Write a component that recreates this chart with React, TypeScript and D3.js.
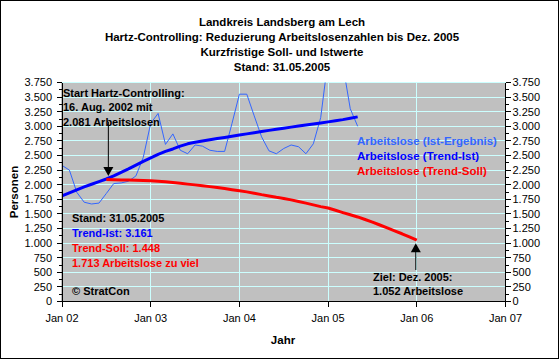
import React from "react";
import * as d3 from "d3";

const titleLines = [
  "Landkreis Landsberg am Lech",
  "Hartz-Controlling: Reduzierung Arbeitslosenzahlen bis Dez. 2005",
  "Kurzfristige Soll- und Istwerte",
  "Stand: 31.05.2005",
];

const axisStart = "2002-01";
const axisEnd = "2007-01";
const xTickMonths = ["2002-01", "2003-01", "2004-01", "2005-01", "2006-01", "2007-01"];
const xTickLabels = ["Jan 02", "Jan 03", "Jan 04", "Jan 05", "Jan 06", "Jan 07"];
const yTickValues = [0, 250, 500, 750, 1000, 1250, 1500, 1750, 2000, 2250, 2500, 2750, 3000, 3250, 3500, 3750];

// Arbeitslose (Ist-Ergebnis), monthly from 2002-01
const istStart = "2002-01";
const istValues = [
  2330, 2250, 1870, 1700, 1670, 1685, 1850, 2020, 2030, 2060,
  2150, 2470, 3050, 3220, 2690, 2870, 2590, 2530, 2680, 2660,
  2590, 2570, 2570, 3050, 3550, 3550, 3180, 2820, 2580, 2530,
  2620, 2680, 2650, 2530, 2700, 3150, 4150, 4350, 4050, 3300,
  3000,
];

// Arbeitslose (Trend-Ist), monthly from 2002-01
const trendIstStart = "2002-01";
const trendIstValues = [
  1810, 1860, 1912, 1962, 2008, 2052, 2098, 2150, 2210, 2270,
  2335, 2400, 2460, 2520, 2570, 2612, 2660, 2700, 2728, 2750,
  2770, 2790, 2810, 2830, 2850, 2870, 2890, 2910, 2930, 2950,
  2968, 2986, 3004, 3022, 3040, 3058, 3076, 3094, 3114, 3137,
  3161,
];

// Arbeitslose (Trend-Soll), monthly from 2002-07
const sollStart = "2002-07";
const sollValues = [
  2090, 2085, 2082, 2080, 2078, 2073, 2068, 2060, 2050, 2038,
  2025, 2010, 1997, 1982, 1967, 1953, 1935, 1915, 1897, 1877,
  1855, 1830, 1808, 1785, 1765, 1740, 1712, 1684, 1655, 1625,
  1600, 1562, 1522, 1485, 1448, 1404, 1360, 1310, 1260, 1210,
  1160, 1106, 1052,
];

const legendLabels = [
  "Arbeitslose (Ist-Ergebnis)",
  "Arbeitslose (Trend-Ist)",
  "Arbeitslose (Trend-Soll)",
];
const seriesColors = ["#3366FF", "#0000FF", "#FF0000"];

const startNote = ["Start Hartz-Controlling:", "16. Aug. 2002 mit", "2.081 Arbeitslosen"];
const startNoteMonth = "2002-07";
const startNoteValue = 2081;
const standNote = ["Stand: 31.05.2005", "Trend-Ist: 3.161", "Trend-Soll: 1.448", "1.713 Arbeitslose zu viel"];
const standColors = ["#000000", "#0000FF", "#FF0000", "#FF0000"];
const copyright = "© StratCon";
const zielNote = ["Ziel: Dez. 2005:", "1.052 Arbeitslose"];
const zielMonth = "2006-01";
const zielValue = 1052;

const monthIdx = (s: string) => {
  const [y, m] = s.split("-").map(Number);
  return (y - 2002) * 12 + (m - 1);
};

const W = 559;
const H = 359;
const PL = 62, PR = 505.5, PT = 82.5, PB = 301.5;
const FONT = "'Liberation Sans', Arial, sans-serif";

const de = d3.formatLocale({ decimal: ",", thousands: ".", grouping: [3], currency: ["", "€"] });
const fmt = de.format(",d");

export default function App() {
  const x = d3.scaleLinear().domain([monthIdx(axisStart), monthIdx(axisEnd)]).range([PL, PR]);
  const y = d3.scaleLinear().domain([0, 3750]).range([PB, PT]);

  const line = d3
    .line<[number, number]>()
    .x((d) => x(d[0]))
    .y((d) => y(d[1]));

  const istPts = istValues.map((v, i) => [monthIdx(istStart) + i, v] as [number, number]);
  const trendPts = trendIstValues.map((v, i) => [monthIdx(trendIstStart) + i, v] as [number, number]);
  const sollPts = sollValues.map((v, i) => [monthIdx(sollStart) + i, v] as [number, number]);

  const minorTicks = yTickValues.slice(0, -1).map((v) => v + 125);

  const ax1 = x(monthIdx(startNoteMonth)) + 2;
  const ay1 = y(startNoteValue + 70);
  const ax2 = x(monthIdx(zielMonth)) - 1;
  const ay2 = y(zielValue - 55);

  return (
    <div style={{ position: "absolute", left: 0, top: 0 }}>
      <svg width={W} height={H} style={{ display: "block" }} fontFamily={FONT}>
        <defs>
          <clipPath id="plotclip">
            <rect x={PL} y={PT} width={PR - PL} height={PB - PT} />
          </clipPath>
        </defs>
        <rect x={0.5} y={0.5} width={W - 1} height={H - 1} fill="#FFFFFF" stroke="#000000" />
        {titleLines.map((t, i) => (
          <text key={i} x={282} y={22 + i * 15} dy="0.35em" textAnchor="middle" fontSize={11.5} fontWeight="bold">
            {t}
          </text>
        ))}
        <rect x={PL} y={PT} width={PR - PL} height={PB - PT} fill="#C0C0C0" stroke="#808080" />
        <g shapeRendering="crispEdges">
          {yTickValues.slice(1).map((v) => (
            <line key={v} x1={PL} x2={PR} y1={y(v)} y2={y(v)} stroke="#CCFFFF" />
          ))}
          {xTickMonths.slice(1, -1).map((m) => (
            <line key={m} x1={x(monthIdx(m))} x2={x(monthIdx(m))} y1={PT} y2={PB} stroke="#CCFFFF" />
          ))}
        </g>
        <g clipPath="url(#plotclip)" fill="none" strokeLinejoin="round">
          <path d={line(istPts) || ""} stroke={seriesColors[0]} strokeWidth={1} />
          <path d={line(trendPts) || ""} stroke={seriesColors[1]} strokeWidth={3} />
          <path d={line(sollPts) || ""} stroke={seriesColors[2]} strokeWidth={3} />
        </g>
        {/* axes */}
        <g shapeRendering="crispEdges" stroke="#000000">
          <line x1={PL} x2={PL} y1={PT} y2={PB} />
          <line x1={PR} x2={PR} y1={PT} y2={PB} />
          <line x1={PL} x2={PR} y1={PB} y2={PB} />
          {yTickValues.map((v) => (
            <g key={v}>
              <line x1={PL - 5} x2={PL} y1={y(v)} y2={y(v)} />
              <line x1={PR} x2={PR + 5} y1={y(v)} y2={y(v)} />
            </g>
          ))}
          {minorTicks.map((v) => (
            <g key={v}>
              <line x1={PL - 3} x2={PL} y1={y(v)} y2={y(v)} />
              <line x1={PR} x2={PR + 3} y1={y(v)} y2={y(v)} />
            </g>
          ))}
          {xTickMonths.map((m) => (
            <line key={m} x1={x(monthIdx(m))} x2={x(monthIdx(m))} y1={PB} y2={PB + 5} />
          ))}
        </g>
        {yTickValues.map((v) => (
          <g key={v} fontSize={11}>
            <text x={PL - 10} y={y(v)} dy="0.35em" textAnchor="end">
              {fmt(v)}
            </text>
            <text x={PR + 7} y={y(v)} dy="0.35em" textAnchor="start">
              {fmt(v)}
            </text>
          </g>
        ))}
        {xTickMonths.map((m, i) => (
          <text key={m} x={x(monthIdx(m))} y={318} dy="0.35em" textAnchor="middle" fontSize={11}>
            {xTickLabels[i]}
          </text>
        ))}
        <text x={283} y={340} dy="0.35em" textAnchor="middle" fontSize={11.5} fontWeight="bold">
          Jahr
        </text>
        <text
          transform={`translate(14,${(PT + PB) / 2}) rotate(-90)`}
          dy="0.35em"
          textAnchor="middle"
          fontSize={11.5}
          fontWeight="bold"
        >
          Personen
        </text>
        {/* legend */}
        {legendLabels.map((t, i) => (
          <text key={t} x={357} y={141 + i * 15} dy="0.35em" fontSize={11.5} fontWeight="bold" fill={seriesColors[i]}>
            {t}
          </text>
        ))}
        {/* start annotation */}
        {startNote.map((t, i) => (
          <text key={t} x={63} y={93 + i * 14.5} dy="0.35em" fontSize={11} fontWeight="bold">
            {t}
          </text>
        ))}
        <line x1={ax1} x2={ax1} y1={122} y2={ay1 - 8} stroke="#000" />
        <path d={`M${ax1},${ay1} L${ax1 - 5},${ay1 - 9} L${ax1 + 5},${ay1 - 9} Z`} fill="#000" />
        {/* stand annotation */}
        {standNote.map((t, i) => (
          <text key={t} x={72} y={218 + i * 15} dy="0.35em" fontSize={11} fontWeight="bold" fill={standColors[i]}>
            {t}
          </text>
        ))}
        <text x={72} y={291} dy="0.35em" fontSize={11} fontWeight="bold">
          {copyright}
        </text>
        {/* ziel annotation */}
        <line x1={ax2} x2={ax2} y1={ay2 + 8} y2={270} stroke="#000" />
        <path d={`M${ax2},${ay2} L${ax2 - 5},${ay2 + 9} L${ax2 + 5},${ay2 + 9} Z`} fill="#000" />
        {zielNote.map((t, i) => (
          <text key={t} x={373} y={277 + i * 14.5} dy="0.35em" fontSize={11} fontWeight="bold">
            {t}
          </text>
        ))}
      </svg>
    </div>
  );
}
